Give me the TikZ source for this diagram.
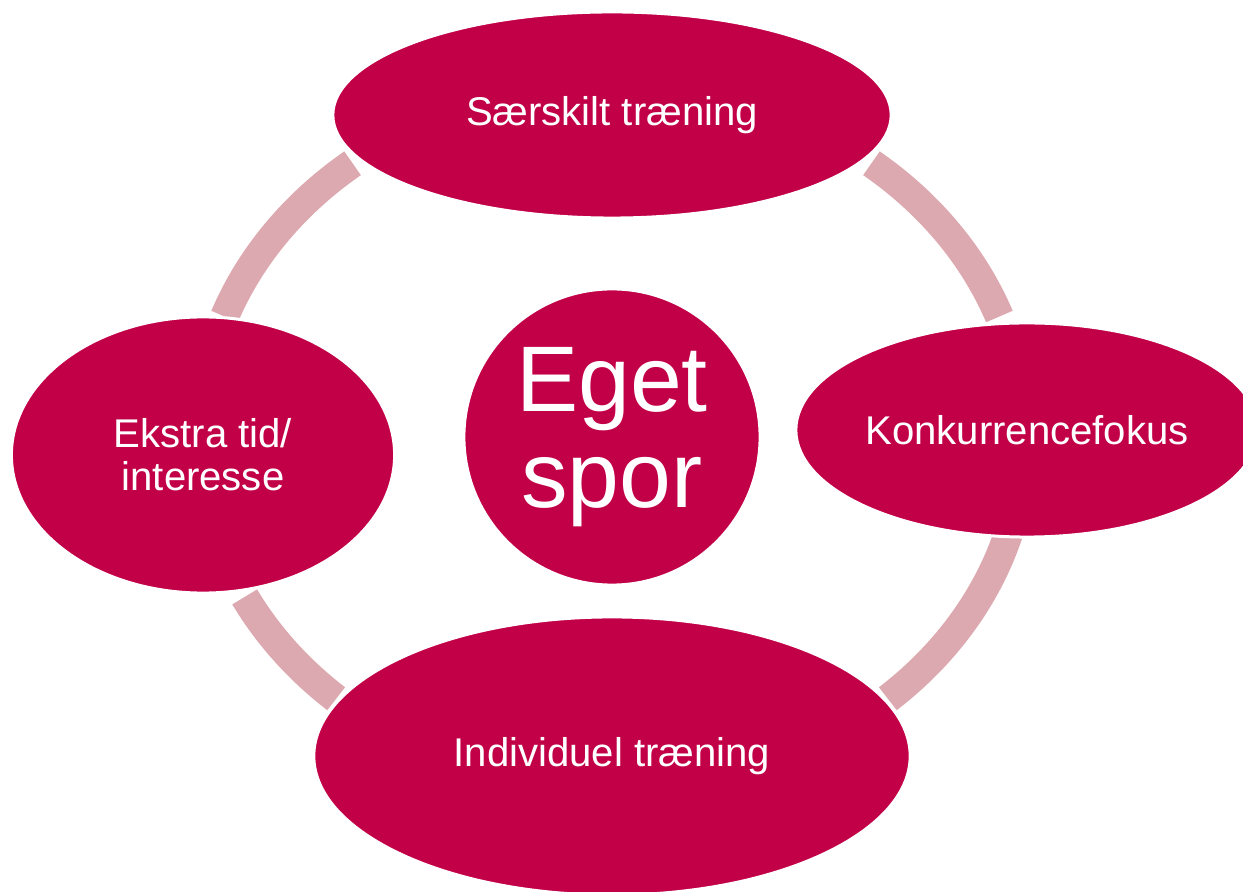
\documentclass[tikz,border=0pt]{standalone}
\usepackage{fontspec}
\setmainfont{Liberation Sans}
\usetikzlibrary{shapes.geometric,calc}
\definecolor{sporred}{RGB}{194,0,72}
\definecolor{sporpink}{RGB}{221,169,176}
\tikzset{
  blob/.style={ellipse,fill=sporred,draw=white,line width=0.03cm,inner sep=0pt,
    text=white,align=center,font=\fontsize{11.4}{12.2}\selectfont},
  ringarc/.style={sporpink,line width=0.29cm,line cap=butt}
}
\begin{document}
\begin{tikzpicture}[x=0.01cm,y=0.01cm]
\useasboundingbox (0,0) rectangle (1243,891);

%RING
\pgfmathsetmacro{\rx}{4.12}
\pgfmathsetmacro{\ry}{3.52}
\coordinate (ring) at (612,454);
\foreach \a/\b in {129/160,20/51,-48/-16,207/228}
  \draw[ringarc] ($(ring)+(\a:\rx cm and \ry cm)$) arc[start angle=\a,end angle=\b,x radius=\rx cm,y radius=\ry cm];

%ELLIPSES
\node[blob,minimum width=5.58cm,minimum height=2.06cm] (saerskilt) at (612,776) {Særskilt træning};
\node[blob,minimum width=4.62cm,minimum height=2.14cm] (konkurrence) at (1027,461) {Konkurrencefokus};
\node[blob,minimum width=5.96cm,minimum height=2.78cm] (individuel) at (612,135) {Individuel træning};
\node[blob,minimum width=3.83cm,minimum height=2.76cm] (ekstra) at (203,436) {Ekstra tid/\\interesse};

%CENTRE
\node[blob,circle,minimum size=2.96cm,font=\fontsize{26.5}{27.3}\selectfont] (eget) at (612,454) {Eget\\spor};
\end{tikzpicture}
\end{document}
